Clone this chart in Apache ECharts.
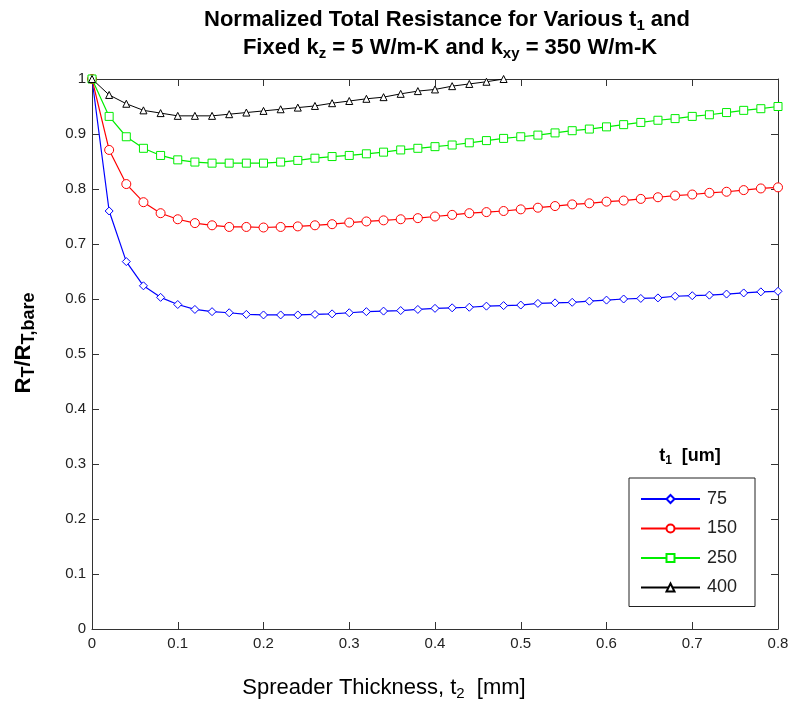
<!DOCTYPE html>
<html>
<head>
<meta charset="utf-8">
<script src="https://cdn.jsdelivr.net/npm/echarts@6/dist/echarts.min.js"></script>
<style>
  html, body { margin: 0; padding: 0; background: #fff; }
  #chart { width: 792px; height: 706px; }
</style>
</head>
<body>
<div id="chart"></div>
<script>
// Spreader thickness t2 [mm]
const thickness = [0, 0.02, 0.04, 0.06, 0.08, 0.10, 0.12, 0.14, 0.16, 0.18,
  0.20, 0.22, 0.24, 0.26, 0.28, 0.30, 0.32, 0.34, 0.36, 0.38,
  0.40, 0.42, 0.44, 0.46, 0.48, 0.50, 0.52, 0.54, 0.56, 0.58,
  0.60, 0.62, 0.64, 0.66, 0.68, 0.70, 0.72, 0.74, 0.76, 0.78, 0.80];

// Normalized total resistance R_T / R_T,bare for each t1 [um]
const r75 = [1.000, 0.760, 0.668, 0.624, 0.603, 0.590, 0.581, 0.577, 0.575, 0.572,
  0.571, 0.571, 0.571, 0.572, 0.573, 0.575, 0.577, 0.578, 0.579, 0.581,
  0.583, 0.584, 0.585, 0.587, 0.588, 0.589, 0.592, 0.593, 0.594, 0.596,
  0.598, 0.600, 0.601, 0.602, 0.605, 0.606, 0.607, 0.609, 0.611, 0.613, 0.614];
const r150 = [1.000, 0.871, 0.809, 0.776, 0.756, 0.745, 0.738, 0.734, 0.731, 0.731,
  0.730, 0.731, 0.732, 0.734, 0.736, 0.739, 0.741, 0.743, 0.745, 0.747,
  0.750, 0.753, 0.756, 0.758, 0.760, 0.763, 0.766, 0.769, 0.772, 0.774,
  0.777, 0.779, 0.782, 0.785, 0.788, 0.790, 0.793, 0.795, 0.798, 0.801, 0.803];
const r250 = [1.000, 0.932, 0.895, 0.874, 0.861, 0.853, 0.849, 0.847, 0.847, 0.847,
  0.847, 0.849, 0.852, 0.856, 0.859, 0.861, 0.864, 0.867, 0.871, 0.874,
  0.877, 0.880, 0.884, 0.888, 0.892, 0.895, 0.898, 0.902, 0.906, 0.909,
  0.913, 0.917, 0.921, 0.925, 0.928, 0.932, 0.935, 0.939, 0.943, 0.946, 0.950];
const r400 = [1.000, 0.971, 0.955, 0.943, 0.938, 0.933, 0.933, 0.933, 0.936, 0.939,
  0.942, 0.945, 0.948, 0.951, 0.956, 0.960, 0.964, 0.967, 0.973, 0.978,
  0.981, 0.987, 0.991, 0.995, 1.000];

const seriesNames = ['75', '150', '250', '400'];
const xTicks = [0, 0.1, 0.2, 0.3, 0.4, 0.5, 0.6, 0.7, 0.8];
const yTicks = [0, 0.1, 0.2, 0.3, 0.4, 0.5, 0.6, 0.7, 0.8, 0.9, 1];

const pairs = (ys) => ys.map((y, i) => [thickness[i], y]);

const FONT = "'Liberation Sans', Arial, Helvetica, sans-serif";
const AXIS_COLOR = '#333';

const fmt = (v) => String(+v.toFixed(1));

function mkSeries(name, ys, color, symbol, size, width) {
  return {
    name: name,
    type: 'line',
    data: pairs(ys),
    symbol: symbol,
    symbolSize: size,
    showAllSymbol: true,
    lineStyle: { color: color, width: width },
    itemStyle: { color: '#fff', borderColor: color, borderWidth: 1 },
    emphasis: { disabled: true },
    animation: false,
    z: 3
  };
}

// rich-text styles: main run + lowered subscript run
function richStyles(main, sub, bold) {
  const w = bold ? 'bold' : 'normal';
  return {
    b: { fontSize: main, fontWeight: w, fontFamily: FONT, color: '#000' },
    s: { fontSize: sub, fontWeight: w, fontFamily: FONT, color: '#000', padding: [Math.round(main * 0.5), 0, 0, 0] }
  };
}

const chart = echarts.init(document.getElementById('chart'), null, { renderer: 'canvas' });

const baseAxisX = {
  type: 'value', min: 0, max: 0.8, interval: 0.1,
  axisLine: { show: true, onZero: false, lineStyle: { color: AXIS_COLOR, width: 1 } },
  axisTick: { show: true, inside: true, length: 7, lineStyle: { color: AXIS_COLOR } },
  splitLine: { show: false }
};
const baseAxisY = {
  type: 'value', min: 0, max: 1, interval: 0.1,
  axisLine: { show: true, onZero: false, lineStyle: { color: AXIS_COLOR, width: 1 } },
  axisTick: { show: true, inside: true, length: 7, lineStyle: { color: AXIS_COLOR } },
  splitLine: { show: false }
};

chart.setOption({
  backgroundColor: '#fff',
  animation: false,
  grid: { left: 92, right: 14, top: 79, bottom: 77, containLabel: false },
  xAxis: [
    Object.assign({}, baseAxisX, {
      position: 'bottom',
      axisLabel: {
        margin: 7, fontSize: 15, color: '#222', fontFamily: FONT,
        customValues: xTicks, formatter: fmt
      }
    }),
    Object.assign({}, baseAxisX, { position: 'top', axisLabel: { show: false } })
  ],
  yAxis: [
    Object.assign({}, baseAxisY, {
      position: 'left',
      axisLabel: {
        margin: 6, fontSize: 15, color: '#222', fontFamily: FONT,
        customValues: yTicks, formatter: fmt
      }
    }),
    Object.assign({}, baseAxisY, { position: 'right', axisLabel: { show: false } })
  ],
  legend: {
    orient: 'vertical',
    left: 629, top: 478,
    padding: [12, 8, 10, 11],
    itemGap: 11.5,
    itemWidth: 59, itemHeight: 10,
    backgroundColor: '#fff',
    borderColor: '#222', borderWidth: 1,
    selectedMode: false,
    data: seriesNames,
    textStyle: { fontSize: 18, color: '#222', fontFamily: FONT, width: 40, lineHeight: 18, padding: [0, 0, 0, 2] }
  },
  graphic: [
    {
      type: 'text', x: 447, y: 20,
      style: {
        text: '{b|Normalized Total Resistance for Various t}{s|1}{b| and}',
        align: 'center', verticalAlign: 'middle',
        rich: richStyles(22, 15, true)
      }
    },
    {
      type: 'text', x: 450, y: 48,
      style: {
        text: '{b|Fixed k}{s|z}{b| = 5 W/m-K and k}{s|xy}{b| = 350 W/m-K}',
        align: 'center', verticalAlign: 'middle',
        rich: richStyles(22, 15, true)
      }
    },
    {
      type: 'text', x: 384, y: 688,
      style: {
        text: '{b|Spreader Thickness, t}{s|2}{b|  [mm]}',
        align: 'center', verticalAlign: 'middle',
        rich: richStyles(22, 15, false)
      }
    },
    {
      type: 'text', x: 24, y: 343, rotation: Math.PI / 2,
      style: {
        text: '{b|R}{s|T}{b|/R}{s|T,bare}',
        align: 'center', verticalAlign: 'middle',
        rich: richStyles(22, 18, true)
      }
    },
    {
      type: 'text', x: 690, y: 456,
      style: {
        text: '{b|t}{s|1}{b|  [um]}',
        align: 'center', verticalAlign: 'middle',
        rich: richStyles(18, 12, true)
      }
    }
  ],
  series: [
    mkSeries(seriesNames[0], r75, '#0000ff', 'diamond', 8, 1.2),
    mkSeries(seriesNames[1], r150, '#ff0000', 'circle', 9, 1.2),
    mkSeries(seriesNames[2], r250, '#00ee00', 'rect', 8, 1.2),
    mkSeries(seriesNames[3], r400, '#000000', 'triangle', 7, 1)
  ]
});
</script>
</body>
</html>
